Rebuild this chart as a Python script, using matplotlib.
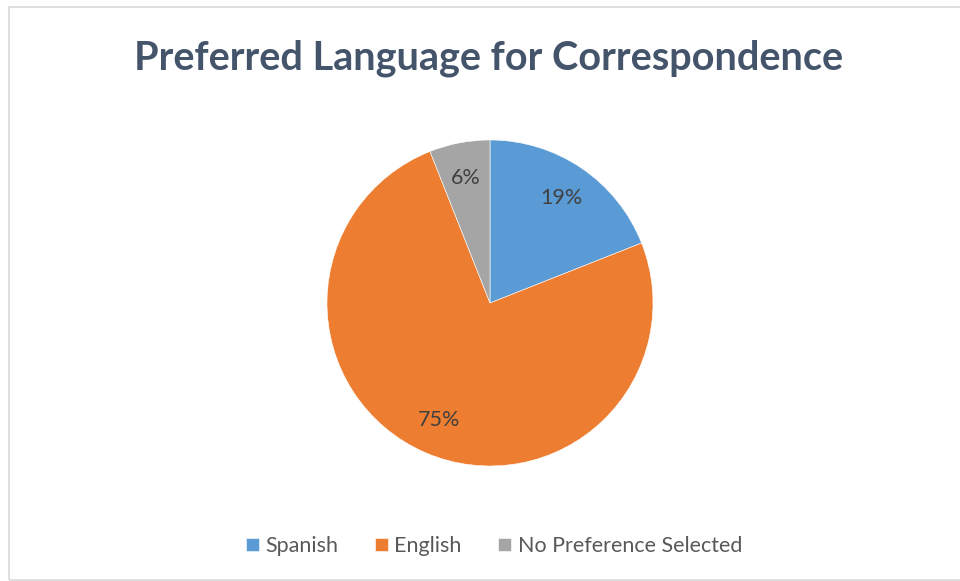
import matplotlib.pyplot as plt
from matplotlib.patches import Rectangle

labels = ["Spanish", "English", "No Preference Selected"]
values = [19, 75, 6]
colors = ["#5B9BD5", "#ED7D31", "#A5A5A5"]

plt.rcParams['font.family'] = ['Lato', 'DejaVu Sans']

W, H = 960, 581
fig = plt.figure(figsize=(W / 100, H / 100), dpi=100)

# chart area border
fig.patches.append(Rectangle((9 / W, 1 / H), 1.0, (H - 8) / H, transform=fig.transFigure,
                             fill=False, edgecolor="#D9D9D9", linewidth=1.2))

# pie placed by center and radius in pixels
cx, cy, r = 490, 303, 163
ax = fig.add_axes([(cx - r) / W, (H - cy - r) / H, 2 * r / W, 2 * r / H])
wedges, texts, autotexts = ax.pie(values, colors=colors, startangle=90, counterclock=False,
                                  autopct=lambda p: f"{p:.0f}%", pctdistance=0.78,
                                  wedgeprops=dict(edgecolor="white", linewidth=0.4),
                                  textprops=dict(color="#404040", fontsize=15.5))
ax.set_xlim(-1, 1)
ax.set_ylim(-1, 1)
ax.set_aspect("equal")
ax.axis("off")

fig.text(489 / W, 1 - 58 / H, "Preferred Language for Correspondence", ha="center", va="center",
         fontsize=28.5, fontweight="bold", color="#44546A")

leg = fig.legend(wedges, labels, loc="center", bbox_to_anchor=(494 / W, 1 - 546 / H), ncol=3,
                 frameon=False, fontsize=15.5, handlelength=0.6, handleheight=0.6,
                 handletextpad=0.3, columnspacing=1.7)
for t in leg.get_texts():
    t.set_color("#595959")

fig.savefig("out.png", dpi=100)
